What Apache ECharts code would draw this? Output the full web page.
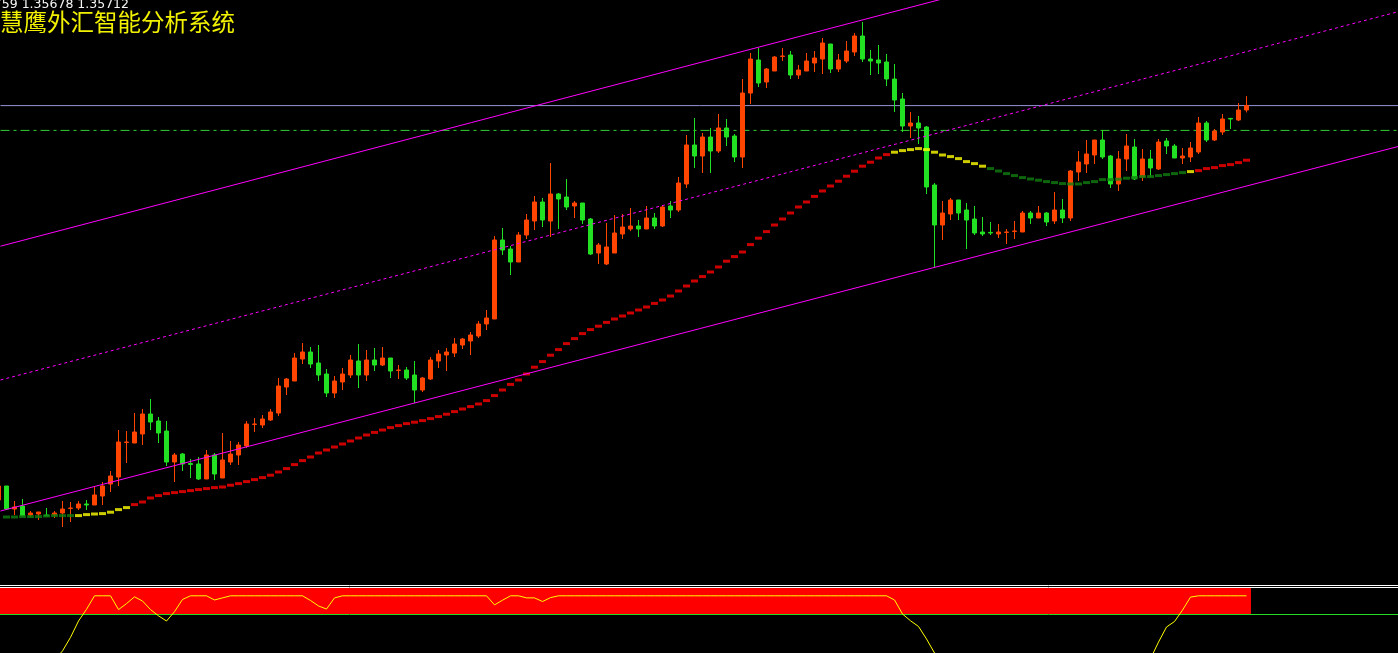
<!DOCTYPE html>
<html><head><meta charset="utf-8">
<script src="https://cdn.jsdelivr.net/npm/echarts@6/dist/echarts.min.js"></script>
<style>html,body{margin:0;padding:0;background:#000;overflow:hidden}#c{width:1398px;height:653px}</style>
</head><body><div id="c"></div>
<script>
// ---- Header texts ----
const headerText = '1.35759 1.35678 1.35712';
const titleText = '慧鹰外汇智能分析系统';

// ---- Candles (bar index 0..156) ----
const opens = [1.33740,1.33810,1.33695,1.33710,1.33665,1.33670,1.33665,1.33665,1.33675,1.33698,
1.33700,1.33720,1.33715,1.33760,1.33820,1.33855,1.34028,1.34025,1.34070,1.34170,
1.34135,1.34085,1.33930,1.33970,1.33923,1.33920,1.33845,1.33965,1.33850,1.33930,
1.33965,1.34010,1.34118,1.34115,1.34140,1.34175,1.34305,1.34335,1.34445,1.34480,
1.34425,1.34370,1.34275,1.34330,1.34365,1.34435,1.34365,1.34440,1.34415,1.34450,
1.34388,1.34390,1.34365,1.34290,1.34345,1.34435,1.34465,1.34475,1.34515,1.34535,
1.34560,1.34620,1.34645,1.35040,1.34995,1.34930,1.35065,1.35135,1.35230,1.35135,
1.35270,1.35255,1.35210,1.35225,1.35145,1.34975,1.34920,1.34975,1.35070,1.35095,
1.35110,1.35095,1.35150,1.35110,1.35210,1.35190,1.35320,1.35515,1.35460,1.35555,
1.35485,1.35600,1.35560,1.35455,1.35775,1.35940,1.35830,1.35885,1.35958,1.35965,
1.35865,1.35885,1.35925,1.35945,1.36020,1.35895,1.35935,1.35980,1.36060,1.35945,
1.35940,1.35930,1.35845,1.35745,1.35610,1.35625,1.35605,1.35315,1.35115,1.35170,
1.35240,1.35190,1.35145,1.35080,1.35078,1.35070,1.35078,1.35083,1.35080,1.35175,
1.35150,1.35175,1.35135,1.35190,1.35150,1.35380,1.35420,1.35465,1.35540,1.35460,
1.35320,1.35445,1.35505,1.35355,1.35445,1.35395,1.35535,1.35510,1.35450,1.35455,
1.35480,1.35625,1.35540,1.35580,1.35648,1.35640,1.35690];
const closes = [1.33810,1.33695,1.33705,1.33660,1.33675,1.33680,1.33660,1.33675,1.33695,1.33700,
1.33720,1.33715,1.33765,1.33810,1.33860,1.34030,1.34030,1.34080,1.34170,1.34130,
1.34075,1.33930,1.33965,1.33920,1.33918,1.33845,1.33965,1.33870,1.33940,1.33970,
1.34015,1.34120,1.34120,1.34145,1.34180,1.34310,1.34345,1.34450,1.34480,1.34420,
1.34365,1.34275,1.34335,1.34370,1.34440,1.34365,1.34440,1.34415,1.34450,1.34385,
1.34390,1.34350,1.34290,1.34350,1.34440,1.34470,1.34480,1.34520,1.34545,1.34565,
1.34620,1.34650,1.35040,1.34990,1.34930,1.35065,1.35140,1.35230,1.35140,1.35270,
1.35245,1.35205,1.35225,1.35140,1.34970,1.35015,1.35005,1.35075,1.35105,1.35110,
1.35095,1.35150,1.35110,1.35205,1.35190,1.35325,1.35515,1.35460,1.35555,1.35485,
1.35600,1.35555,1.35455,1.35775,1.35945,1.35825,1.35895,1.35955,1.35960,1.35865,
1.35890,1.35935,1.35950,1.36025,1.35895,1.35940,1.35985,1.36060,1.35945,1.35935,
1.35925,1.35845,1.35740,1.35610,1.35625,1.35600,1.35305,1.35115,1.35175,1.35240,
1.35175,1.35140,1.35075,1.35070,1.35075,1.35080,1.35080,1.35085,1.35175,1.35150,
1.35175,1.35130,1.35190,1.35150,1.35385,1.35430,1.35470,1.35540,1.35455,1.35320,
1.35445,1.35510,1.35345,1.35445,1.35400,1.35530,1.35510,1.35450,1.35460,1.35500,
1.35625,1.35540,1.35585,1.35645,1.35645,1.35690,1.35712];
const lows = [1.33730,1.33690,1.33665,1.33660,1.33655,1.33640,1.33660,1.33650,1.33605,1.33630,
1.33690,1.33690,1.33715,1.33715,1.33780,1.33810,1.33925,1.34025,1.34015,1.34090,
1.34025,1.33910,1.33830,1.33885,1.33850,1.33840,1.33845,1.33840,1.33850,1.33915,
1.33915,1.34000,1.34080,1.34100,1.34135,1.34160,1.34265,1.34335,1.34420,1.34400,
1.34335,1.34255,1.34250,1.34290,1.34350,1.34300,1.34335,1.34385,1.34410,1.34350,
1.34345,1.34340,1.34225,1.34280,1.34340,1.34400,1.34385,1.34455,1.34495,1.34465,
1.34550,1.34590,1.34645,1.34965,1.34865,1.34930,1.35045,1.35090,1.35105,1.35055,
1.35095,1.35190,1.35150,1.35120,1.34965,1.34920,1.34915,1.34975,1.35045,1.35085,
1.35055,1.35095,1.35095,1.35105,1.35150,1.35180,1.35300,1.35400,1.35375,1.35375,
1.35475,1.35510,1.35430,1.35400,1.35720,1.35805,1.35800,1.35885,1.35935,1.35845,
1.35845,1.35885,1.35880,1.35870,1.35875,1.35880,1.35925,1.35960,1.35930,1.35865,
1.35870,1.35810,1.35680,1.35580,1.35550,1.35520,1.35270,1.34905,1.35040,1.35140,
1.35140,1.34995,1.35065,1.35060,1.35065,1.35050,1.35020,1.35045,1.35080,1.35120,
1.35150,1.35110,1.35120,1.35125,1.35135,1.35335,1.35375,1.35420,1.35445,1.35300,
1.35285,1.35385,1.35340,1.35335,1.35355,1.35390,1.35470,1.35450,1.35420,1.35430,
1.35470,1.35530,1.35535,1.35565,1.35595,1.35635,1.35678];
const highs = [1.33820,1.33810,1.33735,1.33745,1.33685,1.33680,1.33700,1.33685,1.33735,1.33730,
1.33735,1.33740,1.33810,1.33830,1.33885,1.34090,1.34085,1.34175,1.34195,1.34245,
1.34155,1.34135,1.33975,1.33975,1.33945,1.33955,1.33990,1.33975,1.34075,1.34035,
1.34030,1.34135,1.34150,1.34165,1.34195,1.34350,1.34350,1.34475,1.34525,1.34505,
1.34515,1.34395,1.34360,1.34400,1.34465,1.34520,1.34490,1.34500,1.34505,1.34450,
1.34415,1.34405,1.34435,1.34355,1.34455,1.34490,1.34500,1.34550,1.34550,1.34580,
1.34635,1.34690,1.35060,1.35100,1.35010,1.35080,1.35170,1.35260,1.35250,1.35425,
1.35275,1.35345,1.35235,1.35225,1.35150,1.35025,1.35125,1.35165,1.35170,1.35200,
1.35140,1.35210,1.35175,1.35210,1.35235,1.35355,1.35565,1.35650,1.35575,1.35600,
1.35670,1.35645,1.35570,1.35845,1.35975,1.36000,1.35900,1.35960,1.36000,1.35985,
1.35915,1.35975,1.35985,1.36050,1.36020,1.35970,1.36035,1.36075,1.36130,1.35990,
1.36015,1.35970,1.35920,1.35775,1.35680,1.35660,1.35610,1.35325,1.35235,1.35250,
1.35240,1.35225,1.35210,1.35155,1.35130,1.35120,1.35095,1.35135,1.35185,1.35185,
1.35210,1.35180,1.35280,1.35245,1.35390,1.35485,1.35540,1.35540,1.35590,1.35465,
1.35485,1.35570,1.35545,1.35495,1.35490,1.35545,1.35550,1.35520,1.35500,1.35530,
1.35655,1.35635,1.35595,1.35670,1.35650,1.35725,1.35759];

// ---- Stepped moving average and its colour state per bar ----
const maValues = [1.33655,1.33655,1.33655,1.33657,1.33657,1.33657,1.33660,1.33662,1.33662,1.33662,
1.33662,1.33667,1.33670,1.33672,1.33679,1.33692,1.33702,1.33717,1.33730,1.33750,
1.33762,1.33772,1.33777,1.33782,1.33787,1.33792,1.33797,1.33802,1.33805,1.33814,
1.33822,1.33832,1.33842,1.33852,1.33864,1.33880,1.33897,1.33917,1.33937,1.33955,
1.33975,1.33990,1.34005,1.34020,1.34035,1.34050,1.34065,1.34078,1.34090,1.34102,
1.34112,1.34122,1.34129,1.34137,1.34147,1.34157,1.34169,1.34182,1.34195,1.34207,
1.34220,1.34237,1.34262,1.34290,1.34318,1.34340,1.34370,1.34404,1.34432,1.34464,
1.34492,1.34522,1.34547,1.34572,1.34592,1.34609,1.34628,1.34645,1.34660,1.34675,
1.34690,1.34705,1.34723,1.34740,1.34760,1.34785,1.34810,1.34835,1.34857,1.34880,
1.34905,1.34934,1.34957,1.34980,1.35017,1.35049,1.35082,1.35115,1.35145,1.35175,
1.35205,1.35230,1.35258,1.35285,1.35310,1.35334,1.35359,1.35384,1.35409,1.35429,
1.35450,1.35467,1.35479,1.35487,1.35492,1.35497,1.35492,1.35479,1.35465,1.35457,
1.35447,1.35432,1.35422,1.35409,1.35397,1.35385,1.35372,1.35362,1.35352,1.35345,
1.35339,1.35332,1.35327,1.35322,1.35320,1.35320,1.35327,1.35332,1.35342,1.35342,
1.35344,1.35349,1.35352,1.35357,1.35357,1.35362,1.35367,1.35372,1.35377,1.35382,
1.35387,1.35397,1.35402,1.35412,1.35417,1.35427,1.35439];
// runs of colour state: D = falling (dark green), F = flat (yellow), U = rising (red)
const maRuns = [['D',10],['F',7],['U',95],['F',12],['D',25],['F',1],['U',7]];

// ---- Channel lines and horizontal levels (bar index, price) ----
const channelUpper = [[0.25, 1.35009], [175, 1.36844]];
const channelMiddle = [[0.25, 1.34340], [175, 1.36182]];
const channelLower = [[0.25, 1.33685], [175, 1.35508]];
const bidLine = [[0.25, 1.35712], [175, 1.35712]];
const levelLine = [[0.25, 1.35588], [175, 1.35588]];

// ---- Sub window ----
const signalValues = [
100,100,100,100,100,100,100,100,100,100,
100,100,100,100,100,100,100,100,100,100,
100,100,100,100,100,100,100,100,100,100,
100,100,100,100,100,100,100,100,100,100,
100,100,100,100,100,100,100,100,100,100,
100,100,100,100,100,100,100,100,100,100,
100,100,100,100,100,100,100,100,100,100,
100,100,100,100,100,100,100,100,100,100,
100,100,100,100,100,100,100,100,100,100,
100,100,100,100,100,100,100,100,100,100,
100,100,100,100,100,100,100,100,100,100,
100,100,100,100,100,100,100,100,100,100,
100,100,100,100,100,100,100,100,100,100,
100,100,100,100,100,100,100,100,100,100,
100,100,100,100,100,100,100,100,100,100,
100,100,100,100,100,100,100];
const oscValues = [-300,-295,-285,-270,-250,-230,-205,-178,-142,-90,
-27,18,70,70,70,17,40,66,50,17,
-7,-27,9,56,70,70,70,54,62,70,
70,70,70,70,70,70,70,70,70,52,
31,19,62,70,70,70,70,70,70,70,
70,70,70,70,70,70,70,70,70,70,
70,70,35,53,70,70,62,62,48,63,
70,70,70,70,70,70,70,70,70,70,
70,70,70,70,70,70,70,70,70,70,
70,70,70,70,70,70,70,70,70,70,
70,70,70,70,70,70,70,70,70,70,
70,70,54,0,-26,-48,-96,-150,-180,-205,
-225,-240,-252,-262,-268,-272,-274,-274,-272,-268,
-263,-257,-250,-243,-236,-228,-220,-212,-205,-198,
-192,-186,-180,-176,-172,-108,-50,-29,15,65,
70,70,70,70,70,70,70];

const UP = '#ff4500', DN = '#22e022';
const maColors = {D: '#108010', F: '#ffff00', U: '#ff0000'};
const maStates = [];
maRuns.forEach(([s, n]) => { for (let k = 0; k < n; k++) maStates.push(s); });

const candleData = opens.map((o, i) => [i, o, closes[i], lows[i], highs[i]]);
const maData = maValues.map((v, i) => ({ value: [i, v], itemStyle: { color: maColors[maStates[i]] } }));
const signalData = signalValues.map((v, i) => [i, v]);
const oscData = oscValues.map((v, i) => [i, v]);

function lineSeries(data, color, type, z, axis) {
  return { type: 'line', xAxisIndex: axis, yAxisIndex: axis, data, showSymbol: false, silent: true, z,
    lineStyle: { color, width: 1, type } };
}

const X_MIN = 0.1875, X_MAX = 174.9375;
const chart = echarts.init(document.getElementById('c'));
chart.setOption({
  backgroundColor: '#000000',
  animation: false,
  grid: [
    { left: 0, top: 0, width: 1398, height: 583 },
    { left: 0, top: 588, width: 1398, height: 65 }
  ],
  xAxis: [
    { type: 'value', gridIndex: 0, min: X_MIN, max: X_MAX, show: false },
    { type: 'value', gridIndex: 1, min: X_MIN, max: X_MAX, show: false }
  ],
  yAxis: [
    { type: 'value', gridIndex: 0, min: 1.33325, max: 1.36240, show: false },
    { type: 'value', gridIndex: 1, min: -150, max: 100, show: false }
  ],
  series: [
    lineSeries(bidLine, '#9494d4', 'solid', 1, 0),
    lineSeries(levelLine, '#32cd32', [9, 4, 3, 4], 1, 0),
    {
      type: 'candlestick', xAxisIndex: 0, yAxisIndex: 0, data: candleData, barWidth: 4, z: 2,
      itemStyle: { color: UP, color0: DN, borderColor: UP, borderColor0: DN, borderWidth: 1 }
    },
    {
      type: 'scatter', xAxisIndex: 0, yAxisIndex: 0, data: maData, symbol: 'rect',
      symbolSize: [7, 3], z: 3, silent: true
    },
    lineSeries(channelUpper, '#ff00ff', 'solid', 4, 0),
    lineSeries(channelMiddle, '#ff00ff', [3, 3], 4, 0),
    lineSeries(channelLower, '#ff00ff', 'solid', 4, 0),
    {
      type: 'bar', xAxisIndex: 1, yAxisIndex: 1, data: signalData, barWidth: 9, z: 1, silent: true,
      itemStyle: { color: '#ff0000' },
      markLine: {
        silent: true, symbol: 'none', label: { show: false }, animation: false,
        lineStyle: { color: '#22dd22', width: 1, type: 'solid' },
        data: [{ yAxis: 0 }]
      }
    },
    lineSeries(oscData, '#ffff00', 'solid', 6, 1)
  ],
  graphic: [
    { type: 'line', silent: true, shape: { x1: 0, y1: 585.5, x2: 1398, y2: 585.5 }, style: { stroke: '#ffffff', lineWidth: 1 } },
    { type: 'line', silent: true, shape: { x1: 0, y1: 587.5, x2: 1398, y2: 587.5 }, style: { stroke: '#ffffff', lineWidth: 1 } },
    { type: 'text', silent: true, x: 129, y: -2, style: { text: headerText, fill: '#f4f4f4', font: '12.5px "DejaVu Sans"', textAlign: 'right', textVerticalAlign: 'top' } },
    { type: 'text', silent: true, x: 0, y: 22.5, style: { text: titleText, fill: '#f2f200', font: '23.5px "Noto Sans CJK SC"', textAlign: 'left', textVerticalAlign: 'middle' } }
  ]
});
</script>
</body></html>
